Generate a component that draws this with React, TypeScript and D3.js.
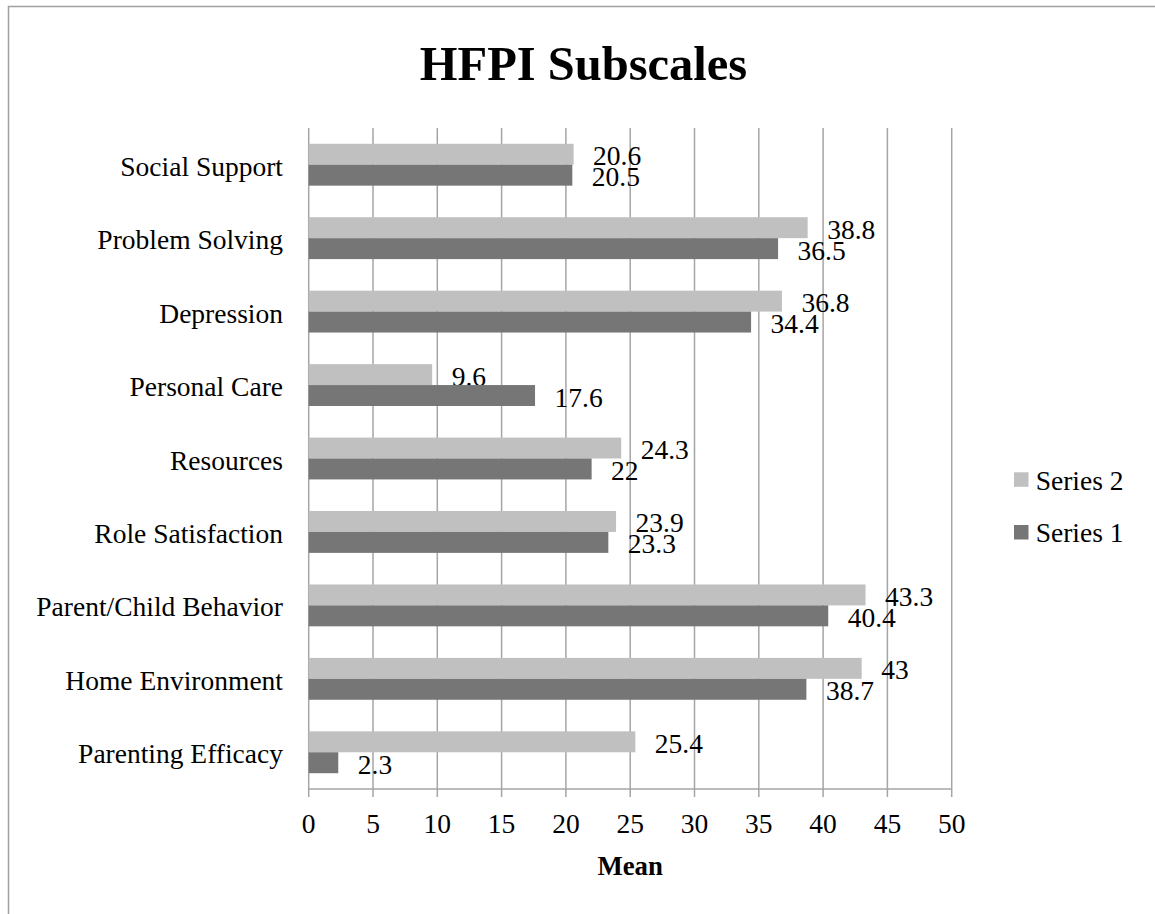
import React from "react";
import * as d3 from "d3";

const categories = [
  "Social Support",
  "Problem Solving",
  "Depression",
  "Personal Care",
  "Resources",
  "Role Satisfaction",
  "Parent/Child Behavior",
  "Home Environment",
  "Parenting Efficacy",
];
const series2 = [20.6, 38.8, 36.8, 9.6, 24.3, 23.9, 43.3, 43, 25.4];
const series1 = [20.5, 36.5, 34.4, 17.6, 22, 23.3, 40.4, 38.7, 2.3];
const seriesNames = ["Series 2", "Series 1"];
const seriesColors = ["#c0c0c0", "#767676"];
const xTicks = [0, 5, 10, 15, 20, 25, 30, 35, 40, 45, 50];
const title = "HFPI Subscales";
const xTitle = "Mean";

const W = 1155;
const H = 914;
const FONT = "'Liberation Serif', 'Times New Roman', serif";

export default function App() {
  const x = d3.scaleLinear().domain([0, 50]).range([308.7, 951.7]);
  const y = d3
    .scaleBand<string>()
    .domain(categories)
    .range([128, 789])
    .paddingInner(0.43)
    .paddingOuter(0.215);
  const sub = d3.scaleBand<string>().domain(seriesNames).range([0, y.bandwidth()]);
  const seriesValues = [series2, series1];
  const gridColor = "#a5a5a5";
  const [y0, y1] = y.range();

  return (
    <div style={{ position: "absolute", left: 0, top: 0 }}>
      <svg width={W} height={H} style={{ display: "block" }}>
        <rect x={0} y={0} width={W} height={H} fill="#ffffff" />
        <rect x={8.5} y={6.5} width={1160} height={930} fill="none" stroke="#a0a0a0" strokeWidth={1.5} />
        <text x={583.5} y={80} textAnchor="middle" fontFamily={FONT} fontWeight="bold" fontSize={48.5} fill="#000">
          {title}
        </text>
        {/* gridlines */}
        {xTicks.map((t) => (
          <line key={t} x1={x(t)} x2={x(t)} y1={y0} y2={y1 + 8} stroke={gridColor} strokeWidth={1.5} />
        ))}
        <line x1={x(0)} x2={x(50)} y1={y1} y2={y1} stroke={gridColor} strokeWidth={1.5} />
        {/* bars */}
        {categories.map((c, i) => (
          <g key={c}>
            {seriesNames.map((s, j) => {
              const v = seriesValues[j][i];
              const by = (y(c) as number) + (sub(s) as number);
              const bh = sub.bandwidth();
              return (
                <g key={s}>
                  <rect x={x(0)} y={by} width={x(v) - x(0)} height={bh} fill={seriesColors[j]} />
                  <text x={x(v) + 19.5} y={by + bh / 2 + 11} fontFamily={FONT} fontSize={27.5} fill="#000">
                    {String(v)}
                  </text>
                </g>
              );
            })}
            <text
              x={283}
              y={(y(c) as number) + y.bandwidth() / 2 + 11}
              textAnchor="end"
              fontFamily={FONT}
              fontSize={27.5}
              fill="#000"
            >
              {c}
            </text>
          </g>
        ))}
        {/* tick labels */}
        {xTicks.map((t) => (
          <text key={t} x={x(t)} y={832.7} textAnchor="middle" fontFamily={FONT} fontSize={27.5} fill="#000">
            {t}
          </text>
        ))}
        <text x={(x(0) + x(50)) / 2} y={875} textAnchor="middle" fontFamily={FONT} fontWeight="bold" fontSize={26.8} fill="#000">
          {xTitle}
        </text>
        {/* legend */}
        {seriesNames.map((s, j) => (
          <g key={s}>
            <rect x={1014} y={472.3 + j * 52.7} width={14.5} height={14.5} fill={seriesColors[j]} />
            <text x={1035.7} y={490 + j * 52} fontFamily={FONT} fontSize={27.5} fill="#000">
              {s}
            </text>
          </g>
        ))}
      </svg>
    </div>
  );
}
